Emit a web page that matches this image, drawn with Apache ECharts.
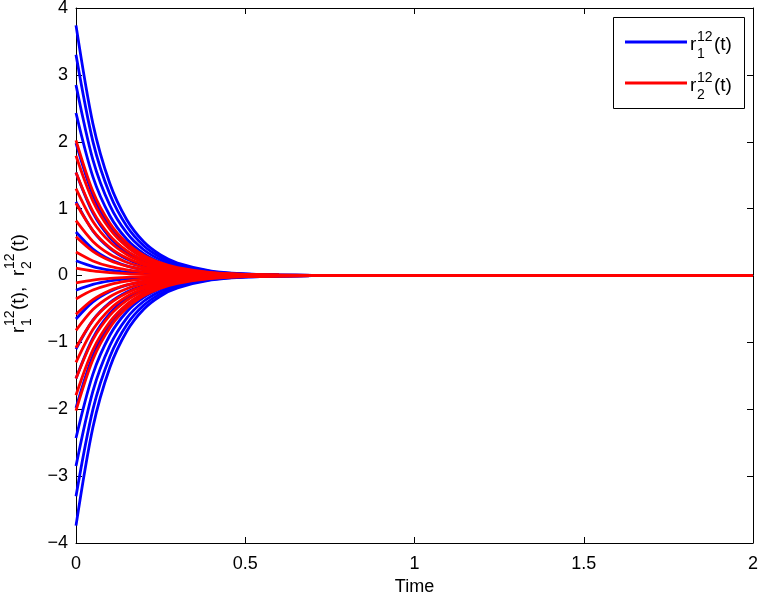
<!DOCTYPE html>
<html>
<head>
<meta charset="utf-8">
<script src="https://cdn.jsdelivr.net/npm/echarts@6/dist/echarts.min.js"></script>
<style>
  html, body { margin: 0; padding: 0; background: #fff; }
  #chart { width: 760px; height: 594px; }
</style>
</head>
<body>
<div id="chart"></div>
<script>
// sample times (s) and curve values
const timePoints = [0, 0.05, 0.1, 0.15, 0.2, 0.25, 0.3, 0.4, 0.5, 0.6, 0.8, 2];

// r1^12(t) - blue curves
const r1Curves = [
  [3.74, 2.27, 1.376, 0.834, 0.505, 0.307, 0.187, 0.067, 0.025, 0.009, 0.001, 0],
  [3.30, 2.003, 1.214, 0.736, 0.446, 0.271, 0.165, 0.059, 0.022, 0.008, 0.001, 0],
  [2.85, 1.73, 1.049, 0.636, 0.385, 0.234, 0.143, 0.051, 0.019, 0.007, 0.001, 0],
  [2.43, 1.475, 0.894, 0.542, 0.328, 0.199, 0.122, 0.044, 0.016, 0.006, 0.001, 0],
  [1.98, 1.202, 0.729, 0.442, 0.267, 0.162, 0.099, 0.036, 0.013, 0.005, 0.001, 0],
  [1.54, 0.935, 0.567, 0.343, 0.208, 0.126, 0.077, 0.028, 0.010, 0.004, 0, 0],
  [1.10, 0.668, 0.405, 0.245, 0.149, 0.090, 0.055, 0.020, 0.007, 0.003, 0, 0],
  [0.65, 0.395, 0.239, 0.145, 0.088, 0.053, 0.033, 0.012, 0.004, 0.002, 0, 0],
  [0.22, 0.134, 0.081, 0.049, 0.030, 0.018, 0.011, 0.004, 0.001, 0.001, 0, 0],
  [-0.22, -0.134, -0.081, -0.049, -0.030, -0.018, -0.011, -0.004, -0.001, -0.001, 0, 0],
  [-0.65, -0.395, -0.239, -0.145, -0.088, -0.053, -0.033, -0.012, -0.004, -0.002, 0, 0],
  [-1.10, -0.668, -0.405, -0.245, -0.149, -0.090, -0.055, -0.020, -0.007, -0.003, 0, 0],
  [-1.54, -0.935, -0.567, -0.343, -0.208, -0.126, -0.077, -0.028, -0.010, -0.004, 0, 0],
  [-1.98, -1.202, -0.729, -0.442, -0.267, -0.162, -0.099, -0.036, -0.013, -0.005, -0.001, 0],
  [-2.43, -1.475, -0.894, -0.542, -0.328, -0.199, -0.122, -0.044, -0.016, -0.006, -0.001, 0],
  [-2.85, -1.73, -1.049, -0.636, -0.385, -0.234, -0.143, -0.051, -0.019, -0.007, -0.001, 0],
  [-3.30, -2.003, -1.214, -0.736, -0.446, -0.271, -0.165, -0.059, -0.022, -0.008, -0.001, 0],
  [-3.74, -2.27, -1.376, -0.834, -0.505, -0.307, -0.187, -0.067, -0.025, -0.009, -0.001, 0]
];

// r2^12(t) - red curves
const r2Curves = [
  [2.02, 1.256, 0.782, 0.487, 0.303, 0.188, 0.117, 0.044, 0.018, 0.007, 0.001, 0],
  [1.79, 1.113, 0.693, 0.431, 0.269, 0.166, 0.104, 0.039, 0.016, 0.006, 0.001, 0],
  [1.54, 0.958, 0.596, 0.371, 0.231, 0.143, 0.089, 0.034, 0.013, 0.005, 0.001, 0],
  [1.30, 0.809, 0.503, 0.313, 0.195, 0.121, 0.075, 0.029, 0.011, 0.004, 0.001, 0],
  [1.08, 0.672, 0.418, 0.260, 0.162, 0.100, 0.063, 0.024, 0.009, 0.004, 0.001, 0],
  [0.82, 0.510, 0.317, 0.198, 0.123, 0.076, 0.048, 0.018, 0.007, 0.003, 0, 0],
  [0.58, 0.361, 0.224, 0.140, 0.087, 0.054, 0.034, 0.013, 0.005, 0.002, 0, 0],
  [0.35, 0.218, 0.135, 0.084, 0.053, 0.033, 0.020, 0.008, 0.003, 0.001, 0, 0],
  [0.11, 0.068, 0.043, 0.027, 0.017, 0.010, 0.006, 0.002, 0.001, 0, 0, 0],
  [-0.11, -0.068, -0.043, -0.027, -0.017, -0.010, -0.006, -0.002, -0.001, 0, 0, 0],
  [-0.35, -0.218, -0.135, -0.084, -0.053, -0.033, -0.020, -0.008, -0.003, -0.001, 0, 0],
  [-0.58, -0.361, -0.224, -0.140, -0.087, -0.054, -0.034, -0.013, -0.005, -0.002, 0, 0],
  [-0.82, -0.510, -0.317, -0.198, -0.123, -0.076, -0.048, -0.018, -0.007, -0.003, 0, 0],
  [-1.08, -0.672, -0.418, -0.260, -0.162, -0.100, -0.063, -0.024, -0.009, -0.004, -0.001, 0],
  [-1.30, -0.809, -0.503, -0.313, -0.195, -0.121, -0.075, -0.029, -0.011, -0.004, -0.001, 0],
  [-1.54, -0.958, -0.596, -0.371, -0.231, -0.143, -0.089, -0.034, -0.013, -0.005, -0.001, 0],
  [-1.79, -1.113, -0.693, -0.431, -0.269, -0.166, -0.104, -0.039, -0.016, -0.006, -0.001, 0],
  [-2.02, -1.256, -0.782, -0.487, -0.303, -0.188, -0.117, -0.044, -0.018, -0.007, -0.001, 0]
];

const xTicks = [0, 0.5, 1, 1.5, 2];
const yTicks = [-4, -3, -2, -1, 0, 1, 2, 3, 4];

const FONT = 'Liberation Sans, Arial, Helvetica, sans-serif';
const BLUE = '#0000ff';
const RED = '#ff0000';

const chartDom = document.getElementById('chart');
const myChart = echarts.init(chartDom);

function makeSeries(curves, name, color) {
  return curves.map(function (vals) {
    return {
      name: name,
      type: 'line',
      showSymbol: false,
      smooth: 0.3,
      lineStyle: { color: color, width: 2.8 },
      emphasis: { disabled: true },
      data: vals.map(function (v, i) { return [timePoints[i], v]; })
    };
  });
}

function minusFmt(v) {
  return v < 0 ? '\u2212' + Math.abs(v) : String(v);
}

const tickStyle = { show: true, inside: true, length: 6, lineStyle: { color: '#000', width: 1 } };
const lineStyleAxis = { show: true, onZero: false, lineStyle: { color: '#000', width: 1 } };

// legend + y axis label drawn as graphic text (stacked super/subscripts)
function scriptLabel(x, y, sub) {
  return [
    { type: 'text', x: x, y: y, style: { text: 'r', font: '19px ' + FONT, fill: '#000', verticalAlign: 'middle' } },
    { type: 'text', x: x + 7, y: y - 8, style: { text: '12', font: '14px ' + FONT, fill: '#000', verticalAlign: 'middle' } },
    { type: 'text', x: x + 7, y: y + 9, style: { text: sub, font: '14px ' + FONT, fill: '#000', verticalAlign: 'middle' } },
    { type: 'text', x: x + 24, y: y, style: { text: '(t)', font: '19px ' + FONT, fill: '#000', verticalAlign: 'middle' } }
  ];
}

const legendGraphic = {
  type: 'group',
  children: [
    { type: 'rect', shape: { x: 613.5, y: 17.5, width: 131, height: 91 }, style: { fill: '#fff', stroke: '#000', lineWidth: 1 } },
    { type: 'line', shape: { x1: 625, y1: 42, x2: 687, y2: 42 }, style: { stroke: BLUE, lineWidth: 2.8 } },
    { type: 'line', shape: { x1: 625, y1: 83, x2: 687, y2: 83 }, style: { stroke: RED, lineWidth: 2.8 } }
  ].concat(scriptLabel(690, 45, '1')).concat(scriptLabel(690, 86, '2'))
};

const yLabelGraphic = {
  type: 'group',
  x: 19,
  y: 333,
  rotation: Math.PI / 2,
  children: [
    { type: 'text', x: 0, y: 0, style: { text: 'r', font: '19px ' + FONT, fill: '#000', verticalAlign: 'middle' } },
    { type: 'text', x: 7, y: -9, style: { text: '12', font: '14px ' + FONT, fill: '#000', verticalAlign: 'middle' } },
    { type: 'text', x: 7, y: 8, style: { text: '1', font: '14px ' + FONT, fill: '#000', verticalAlign: 'middle' } },
    { type: 'text', x: 23, y: 0, style: { text: '(t),', font: '19px ' + FONT, fill: '#000', verticalAlign: 'middle' } },
    { type: 'text', x: 57, y: 0, style: { text: 'r', font: '19px ' + FONT, fill: '#000', verticalAlign: 'middle' } },
    { type: 'text', x: 64, y: -9, style: { text: '12', font: '14px ' + FONT, fill: '#000', verticalAlign: 'middle' } },
    { type: 'text', x: 64, y: 8, style: { text: '2', font: '14px ' + FONT, fill: '#000', verticalAlign: 'middle' } },
    { type: 'text', x: 81, y: 0, style: { text: '(t)', font: '19px ' + FONT, fill: '#000', verticalAlign: 'middle' } }
  ]
};

const option = {
  animation: false,
  backgroundColor: '#fff',
  textStyle: { fontFamily: FONT },
  grid: { left: 76, right: 7, top: 8, bottom: 51, containLabel: false, outerBoundsMode: 'none' },
  xAxis: [
    {
      type: 'value', min: 0, max: 2, interval: 0.5,
      name: 'Time', nameLocation: 'middle', nameGap: 32,
      nameTextStyle: { color: '#000', fontSize: 18, fontFamily: FONT },
      axisLine: lineStyleAxis, axisTick: tickStyle,
      axisLabel: { color: '#000', fontSize: 18, fontFamily: FONT, margin: 12, formatter: minusFmt,
        customValues: xTicks },
      splitLine: { show: false }
    },
    {
      type: 'value', min: 0, max: 2, interval: 0.5, position: 'top',
      axisLine: lineStyleAxis, axisTick: tickStyle, axisLabel: { show: false }, splitLine: { show: false }
    }
  ],
  yAxis: [
    {
      type: 'value', min: -4, max: 4, interval: 1,
      axisLine: lineStyleAxis, axisTick: tickStyle,
      axisLabel: { color: '#000', fontSize: 18, fontFamily: FONT, margin: 8, formatter: minusFmt,
        customValues: yTicks },
      splitLine: { show: false }
    },
    {
      type: 'value', min: -4, max: 4, interval: 1, position: 'right',
      axisLine: lineStyleAxis, axisTick: tickStyle, axisLabel: { show: false }, splitLine: { show: false }
    }
  ],
  graphic: [yLabelGraphic, legendGraphic],
  series: makeSeries(r1Curves, 'r1', BLUE).concat(makeSeries(r2Curves, 'r2', RED))
};

option && myChart.setOption(option);
window.addEventListener('resize', function () {
  myChart.resize();
});
</script>
</body>
</html>
